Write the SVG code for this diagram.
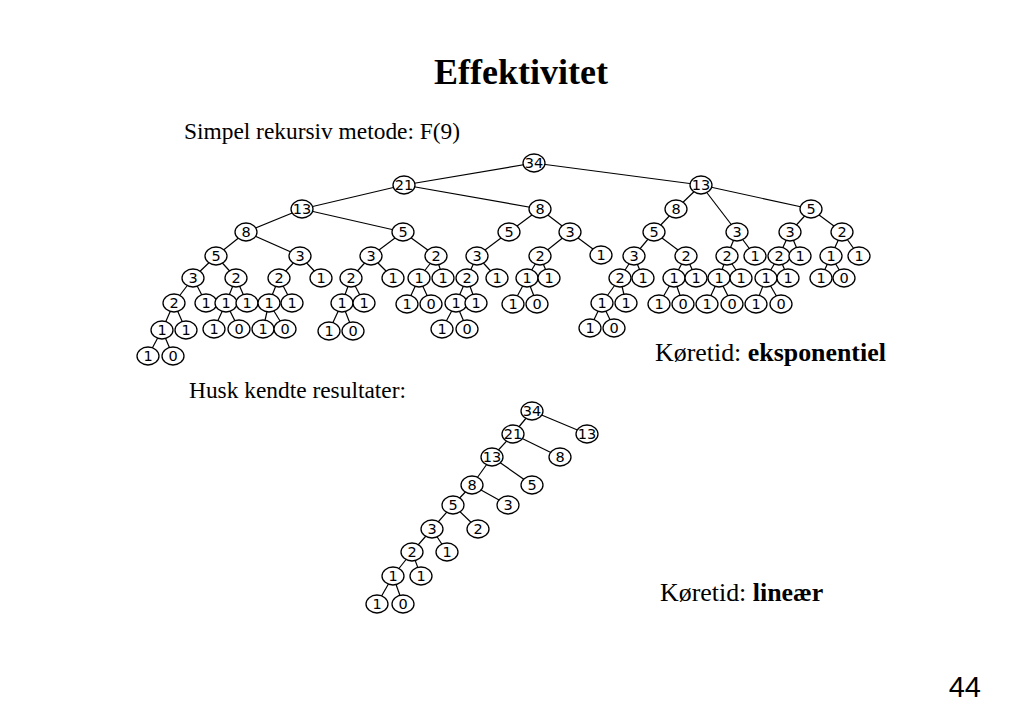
<svg xmlns="http://www.w3.org/2000/svg" width="1024" height="709" viewBox="0 0 1024 709">
<style>
.bg{fill:#fff}
.t{font-family:"Liberation Serif","Times New Roman",serif;fill:#000}
.n ellipse{fill:#fff;stroke:#000;stroke-width:1.3}
.n text{font-family:"DejaVu Sans",Verdana,sans-serif;font-size:14.5px;text-anchor:middle;fill:#000}
#edges line{stroke:#000;stroke-width:1.2}
</style>
<rect class="bg" x="0" y="0" width="1024" height="709"/>
<text class="t" x="521" y="84" font-size="36" font-weight="bold" text-anchor="middle">Effektivitet</text>
<text class="t" x="184" y="139" font-size="23.4">Simpel rekursiv metode: F(9)</text>
<text class="t" x="655" y="361" font-size="25.9">Køretid: <tspan font-weight="bold">eksponentiel</tspan></text>
<text class="t" x="189" y="398" font-size="23.4">Husk kendte resultater:</text>
<text class="t" x="660" y="601" font-size="25.9">Køretid: <tspan font-weight="bold">lineær</tspan></text>
<text x="981" y="697" font-size="29" text-anchor="end" font-family="Liberation Sans, Arial, sans-serif">44</text>
<g id="edges">
<line x1="534" y1="163" x2="404" y2="185"/>
<line x1="534" y1="163" x2="701" y2="185"/>
<line x1="404" y1="185" x2="302" y2="209"/>
<line x1="404" y1="185" x2="540" y2="209"/>
<line x1="701" y1="185" x2="676" y2="209"/>
<line x1="701" y1="185" x2="811" y2="209"/>
<line x1="302" y1="209" x2="246" y2="232"/>
<line x1="302" y1="209" x2="403" y2="232"/>
<line x1="246" y1="232" x2="216" y2="256"/>
<line x1="246" y1="232" x2="300" y2="256"/>
<line x1="216" y1="256" x2="193" y2="278"/>
<line x1="216" y1="256" x2="236" y2="278"/>
<line x1="193" y1="278" x2="174" y2="303"/>
<line x1="193" y1="278" x2="206" y2="303"/>
<line x1="174" y1="303" x2="162" y2="330"/>
<line x1="174" y1="303" x2="186" y2="330"/>
<line x1="162" y1="330" x2="148" y2="356"/>
<line x1="162" y1="330" x2="173" y2="356"/>
<line x1="236" y1="278" x2="226" y2="303"/>
<line x1="236" y1="278" x2="247" y2="303"/>
<line x1="226" y1="303" x2="214" y2="329"/>
<line x1="226" y1="303" x2="239" y2="329"/>
<line x1="300" y1="256" x2="279" y2="278"/>
<line x1="300" y1="256" x2="321" y2="278"/>
<line x1="279" y1="278" x2="269" y2="303"/>
<line x1="279" y1="278" x2="292" y2="303"/>
<line x1="269" y1="303" x2="263" y2="329"/>
<line x1="269" y1="303" x2="285" y2="329"/>
<line x1="403" y1="232" x2="371" y2="256"/>
<line x1="403" y1="232" x2="436" y2="256"/>
<line x1="371" y1="256" x2="351" y2="278"/>
<line x1="371" y1="256" x2="393" y2="278"/>
<line x1="351" y1="278" x2="342" y2="303"/>
<line x1="351" y1="278" x2="364" y2="303"/>
<line x1="342" y1="303" x2="329" y2="331"/>
<line x1="342" y1="303" x2="353" y2="331"/>
<line x1="436" y1="256" x2="419" y2="278"/>
<line x1="436" y1="256" x2="443" y2="278"/>
<line x1="419" y1="278" x2="407" y2="304"/>
<line x1="419" y1="278" x2="431" y2="304"/>
<line x1="540" y1="209" x2="509" y2="232"/>
<line x1="540" y1="209" x2="570" y2="232"/>
<line x1="509" y1="232" x2="477" y2="256"/>
<line x1="477" y1="256" x2="467" y2="278"/>
<line x1="477" y1="256" x2="497" y2="278"/>
<line x1="467" y1="278" x2="456" y2="303"/>
<line x1="467" y1="278" x2="476" y2="303"/>
<line x1="456" y1="303" x2="442" y2="329"/>
<line x1="456" y1="303" x2="467" y2="329"/>
<line x1="570" y1="232" x2="540" y2="256"/>
<line x1="570" y1="232" x2="601" y2="255"/>
<line x1="540" y1="256" x2="527" y2="278"/>
<line x1="540" y1="256" x2="549" y2="278"/>
<line x1="527" y1="278" x2="513" y2="304"/>
<line x1="527" y1="278" x2="537" y2="304"/>
<line x1="676" y1="209" x2="654" y2="232"/>
<line x1="701" y1="185" x2="737" y2="232"/>
<line x1="654" y1="232" x2="634" y2="256"/>
<line x1="654" y1="232" x2="686" y2="256"/>
<line x1="634" y1="256" x2="620" y2="278"/>
<line x1="634" y1="256" x2="643" y2="278"/>
<line x1="620" y1="278" x2="602" y2="303"/>
<line x1="620" y1="278" x2="626" y2="303"/>
<line x1="602" y1="303" x2="590" y2="328"/>
<line x1="602" y1="303" x2="614" y2="328"/>
<line x1="686" y1="256" x2="674" y2="278"/>
<line x1="686" y1="256" x2="696" y2="278"/>
<line x1="674" y1="278" x2="659" y2="304"/>
<line x1="674" y1="278" x2="683" y2="304"/>
<line x1="737" y1="232" x2="727" y2="256"/>
<line x1="737" y1="232" x2="755" y2="256"/>
<line x1="727" y1="256" x2="719" y2="278"/>
<line x1="727" y1="256" x2="741" y2="278"/>
<line x1="719" y1="278" x2="707" y2="304"/>
<line x1="719" y1="278" x2="732" y2="304"/>
<line x1="811" y1="209" x2="790" y2="232"/>
<line x1="811" y1="209" x2="842" y2="232"/>
<line x1="790" y1="232" x2="779" y2="256"/>
<line x1="790" y1="232" x2="800" y2="256"/>
<line x1="779" y1="256" x2="766" y2="278"/>
<line x1="779" y1="256" x2="788" y2="278"/>
<line x1="766" y1="278" x2="756" y2="304"/>
<line x1="766" y1="278" x2="781" y2="304"/>
<line x1="842" y1="232" x2="831" y2="256"/>
<line x1="842" y1="232" x2="859" y2="256"/>
<line x1="831" y1="256" x2="821" y2="278"/>
<line x1="831" y1="256" x2="844" y2="278"/>
<line x1="532" y1="411" x2="513" y2="434"/>
<line x1="532" y1="411" x2="587" y2="434"/>
<line x1="513" y1="434" x2="492" y2="457"/>
<line x1="513" y1="434" x2="560" y2="457"/>
<line x1="492" y1="457" x2="472" y2="485"/>
<line x1="492" y1="457" x2="532" y2="485"/>
<line x1="472" y1="485" x2="453" y2="505"/>
<line x1="472" y1="485" x2="508" y2="505"/>
<line x1="453" y1="505" x2="432" y2="529"/>
<line x1="453" y1="505" x2="478" y2="529"/>
<line x1="432" y1="529" x2="412" y2="552"/>
<line x1="432" y1="529" x2="447" y2="552"/>
<line x1="412" y1="552" x2="393" y2="576"/>
<line x1="412" y1="552" x2="421" y2="576"/>
<line x1="393" y1="576" x2="377" y2="604"/>
<line x1="393" y1="576" x2="403" y2="604"/>
</g>
<g id="a1" class="n"><ellipse cx="534" cy="163" rx="11" ry="9"/><text x="534" y="168">34</text></g>
<g id="a2" class="n"><ellipse cx="404" cy="185" rx="11" ry="9"/><text x="404" y="190">21</text></g>
<g id="a3" class="n"><ellipse cx="701" cy="185" rx="11" ry="9"/><text x="701" y="190">13</text></g>
<g id="a4" class="n"><ellipse cx="302" cy="209" rx="11" ry="9"/><text x="302" y="214">13</text></g>
<g id="a5" class="n"><ellipse cx="540" cy="209" rx="11" ry="9"/><text x="540" y="214">8</text></g>
<g id="a6" class="n"><ellipse cx="676" cy="209" rx="11" ry="9"/><text x="676" y="214">8</text></g>
<g id="a7" class="n"><ellipse cx="811" cy="209" rx="11" ry="9"/><text x="811" y="214">5</text></g>
<g id="a8" class="n"><ellipse cx="246" cy="232" rx="11" ry="9"/><text x="246" y="237">8</text></g>
<g id="a9" class="n"><ellipse cx="403" cy="232" rx="11" ry="9"/><text x="403" y="237">5</text></g>
<g id="a10" class="n"><ellipse cx="216" cy="256" rx="11" ry="9"/><text x="216" y="261">5</text></g>
<g id="a11" class="n"><ellipse cx="300" cy="256" rx="11" ry="9"/><text x="300" y="261">3</text></g>
<g id="a12" class="n"><ellipse cx="193" cy="278" rx="11" ry="9"/><text x="193" y="283">3</text></g>
<g id="a13" class="n"><ellipse cx="236" cy="278" rx="11" ry="9"/><text x="236" y="283">2</text></g>
<g id="a14" class="n"><ellipse cx="174" cy="303" rx="11" ry="9"/><text x="174" y="308">2</text></g>
<g id="a15" class="n"><ellipse cx="206" cy="303" rx="11" ry="9"/><text x="206" y="308">1</text></g>
<g id="a16" class="n"><ellipse cx="162" cy="330" rx="11" ry="9"/><text x="162" y="335">1</text></g>
<g id="a17" class="n"><ellipse cx="186" cy="330" rx="11" ry="9"/><text x="186" y="335">1</text></g>
<g id="a18" class="n"><ellipse cx="148" cy="356" rx="11" ry="9"/><text x="148" y="361">1</text></g>
<g id="a19" class="n"><ellipse cx="173" cy="356" rx="11" ry="9"/><text x="173" y="361">0</text></g>
<g id="a20" class="n"><ellipse cx="226" cy="303" rx="11" ry="9"/><text x="226" y="308">1</text></g>
<g id="a21" class="n"><ellipse cx="247" cy="303" rx="11" ry="9"/><text x="247" y="308">1</text></g>
<g id="a22" class="n"><ellipse cx="214" cy="329" rx="11" ry="9"/><text x="214" y="334">1</text></g>
<g id="a23" class="n"><ellipse cx="239" cy="329" rx="11" ry="9"/><text x="239" y="334">0</text></g>
<g id="a24" class="n"><ellipse cx="279" cy="278" rx="11" ry="9"/><text x="279" y="283">2</text></g>
<g id="a25" class="n"><ellipse cx="321" cy="278" rx="11" ry="9"/><text x="321" y="283">1</text></g>
<g id="a26" class="n"><ellipse cx="269" cy="303" rx="11" ry="9"/><text x="269" y="308">1</text></g>
<g id="a27" class="n"><ellipse cx="292" cy="303" rx="11" ry="9"/><text x="292" y="308">1</text></g>
<g id="a28" class="n"><ellipse cx="263" cy="329" rx="11" ry="9"/><text x="263" y="334">1</text></g>
<g id="a29" class="n"><ellipse cx="285" cy="329" rx="11" ry="9"/><text x="285" y="334">0</text></g>
<g id="a30" class="n"><ellipse cx="371" cy="256" rx="11" ry="9"/><text x="371" y="261">3</text></g>
<g id="a31" class="n"><ellipse cx="436" cy="256" rx="11" ry="9"/><text x="436" y="261">2</text></g>
<g id="a32" class="n"><ellipse cx="351" cy="278" rx="11" ry="9"/><text x="351" y="283">2</text></g>
<g id="a33" class="n"><ellipse cx="393" cy="278" rx="11" ry="9"/><text x="393" y="283">1</text></g>
<g id="a34" class="n"><ellipse cx="342" cy="303" rx="11" ry="9"/><text x="342" y="308">1</text></g>
<g id="a35" class="n"><ellipse cx="364" cy="303" rx="11" ry="9"/><text x="364" y="308">1</text></g>
<g id="a36" class="n"><ellipse cx="329" cy="331" rx="11" ry="9"/><text x="329" y="336">1</text></g>
<g id="a37" class="n"><ellipse cx="353" cy="331" rx="11" ry="9"/><text x="353" y="336">0</text></g>
<g id="a38" class="n"><ellipse cx="419" cy="278" rx="11" ry="9"/><text x="419" y="283">1</text></g>
<g id="a39" class="n"><ellipse cx="443" cy="278" rx="11" ry="9"/><text x="443" y="283">1</text></g>
<g id="a40" class="n"><ellipse cx="407" cy="304" rx="11" ry="9"/><text x="407" y="309">1</text></g>
<g id="a41" class="n"><ellipse cx="431" cy="304" rx="11" ry="9"/><text x="431" y="309">0</text></g>
<g id="a42" class="n"><ellipse cx="509" cy="232" rx="11" ry="9"/><text x="509" y="237">5</text></g>
<g id="a43" class="n"><ellipse cx="570" cy="232" rx="11" ry="9"/><text x="570" y="237">3</text></g>
<g id="a44" class="n"><ellipse cx="477" cy="256" rx="11" ry="9"/><text x="477" y="261">3</text></g>
<g id="a45" class="n"><ellipse cx="467" cy="278" rx="11" ry="9"/><text x="467" y="283">2</text></g>
<g id="a46" class="n"><ellipse cx="497" cy="278" rx="11" ry="9"/><text x="497" y="283">1</text></g>
<g id="a47" class="n"><ellipse cx="456" cy="303" rx="11" ry="9"/><text x="456" y="308">1</text></g>
<g id="a48" class="n"><ellipse cx="476" cy="303" rx="11" ry="9"/><text x="476" y="308">1</text></g>
<g id="a49" class="n"><ellipse cx="442" cy="329" rx="11" ry="9"/><text x="442" y="334">1</text></g>
<g id="a50" class="n"><ellipse cx="467" cy="329" rx="11" ry="9"/><text x="467" y="334">0</text></g>
<g id="a51" class="n"><ellipse cx="540" cy="256" rx="11" ry="9"/><text x="540" y="261">2</text></g>
<g id="a52" class="n"><ellipse cx="601" cy="255" rx="11" ry="9"/><text x="601" y="260">1</text></g>
<g id="a53" class="n"><ellipse cx="527" cy="278" rx="11" ry="9"/><text x="527" y="283">1</text></g>
<g id="a54" class="n"><ellipse cx="549" cy="278" rx="11" ry="9"/><text x="549" y="283">1</text></g>
<g id="a55" class="n"><ellipse cx="513" cy="304" rx="11" ry="9"/><text x="513" y="309">1</text></g>
<g id="a56" class="n"><ellipse cx="537" cy="304" rx="11" ry="9"/><text x="537" y="309">0</text></g>
<g id="a57" class="n"><ellipse cx="654" cy="232" rx="11" ry="9"/><text x="654" y="237">5</text></g>
<g id="a58" class="n"><ellipse cx="737" cy="232" rx="11" ry="9"/><text x="737" y="237">3</text></g>
<g id="a59" class="n"><ellipse cx="634" cy="256" rx="11" ry="9"/><text x="634" y="261">3</text></g>
<g id="a60" class="n"><ellipse cx="686" cy="256" rx="11" ry="9"/><text x="686" y="261">2</text></g>
<g id="a61" class="n"><ellipse cx="620" cy="278" rx="11" ry="9"/><text x="620" y="283">2</text></g>
<g id="a62" class="n"><ellipse cx="643" cy="278" rx="11" ry="9"/><text x="643" y="283">1</text></g>
<g id="a63" class="n"><ellipse cx="602" cy="303" rx="11" ry="9"/><text x="602" y="308">1</text></g>
<g id="a64" class="n"><ellipse cx="626" cy="303" rx="11" ry="9"/><text x="626" y="308">1</text></g>
<g id="a65" class="n"><ellipse cx="590" cy="328" rx="11" ry="9"/><text x="590" y="333">1</text></g>
<g id="a66" class="n"><ellipse cx="614" cy="328" rx="11" ry="9"/><text x="614" y="333">0</text></g>
<g id="a67" class="n"><ellipse cx="674" cy="278" rx="11" ry="9"/><text x="674" y="283">1</text></g>
<g id="a68" class="n"><ellipse cx="696" cy="278" rx="11" ry="9"/><text x="696" y="283">1</text></g>
<g id="a69" class="n"><ellipse cx="659" cy="304" rx="11" ry="9"/><text x="659" y="309">1</text></g>
<g id="a70" class="n"><ellipse cx="683" cy="304" rx="11" ry="9"/><text x="683" y="309">0</text></g>
<g id="a71" class="n"><ellipse cx="727" cy="256" rx="11" ry="9"/><text x="727" y="261">2</text></g>
<g id="a72" class="n"><ellipse cx="755" cy="256" rx="11" ry="9"/><text x="755" y="261">1</text></g>
<g id="a73" class="n"><ellipse cx="719" cy="278" rx="11" ry="9"/><text x="719" y="283">1</text></g>
<g id="a74" class="n"><ellipse cx="741" cy="278" rx="11" ry="9"/><text x="741" y="283">1</text></g>
<g id="a75" class="n"><ellipse cx="707" cy="304" rx="11" ry="9"/><text x="707" y="309">1</text></g>
<g id="a76" class="n"><ellipse cx="732" cy="304" rx="11" ry="9"/><text x="732" y="309">0</text></g>
<g id="a77" class="n"><ellipse cx="790" cy="232" rx="11" ry="9"/><text x="790" y="237">3</text></g>
<g id="a78" class="n"><ellipse cx="842" cy="232" rx="11" ry="9"/><text x="842" y="237">2</text></g>
<g id="a79" class="n"><ellipse cx="779" cy="256" rx="11" ry="9"/><text x="779" y="261">2</text></g>
<g id="a80" class="n"><ellipse cx="800" cy="256" rx="11" ry="9"/><text x="800" y="261">1</text></g>
<g id="a81" class="n"><ellipse cx="766" cy="278" rx="11" ry="9"/><text x="766" y="283">1</text></g>
<g id="a82" class="n"><ellipse cx="788" cy="278" rx="11" ry="9"/><text x="788" y="283">1</text></g>
<g id="a83" class="n"><ellipse cx="756" cy="304" rx="11" ry="9"/><text x="756" y="309">1</text></g>
<g id="a84" class="n"><ellipse cx="781" cy="304" rx="11" ry="9"/><text x="781" y="309">0</text></g>
<g id="a85" class="n"><ellipse cx="831" cy="256" rx="11" ry="9"/><text x="831" y="261">1</text></g>
<g id="a86" class="n"><ellipse cx="859" cy="256" rx="11" ry="9"/><text x="859" y="261">1</text></g>
<g id="a87" class="n"><ellipse cx="821" cy="278" rx="11" ry="9"/><text x="821" y="283">1</text></g>
<g id="a88" class="n"><ellipse cx="844" cy="278" rx="11" ry="9"/><text x="844" y="283">0</text></g>
<g id="b1" class="n"><ellipse cx="532" cy="411" rx="11" ry="9"/><text x="532" y="416">34</text></g>
<g id="b2" class="n"><ellipse cx="513" cy="434" rx="11" ry="9"/><text x="513" y="439">21</text></g>
<g id="b3" class="n"><ellipse cx="587" cy="434" rx="11" ry="9"/><text x="587" y="439">13</text></g>
<g id="b4" class="n"><ellipse cx="492" cy="457" rx="11" ry="9"/><text x="492" y="462">13</text></g>
<g id="b5" class="n"><ellipse cx="560" cy="457" rx="11" ry="9"/><text x="560" y="462">8</text></g>
<g id="b6" class="n"><ellipse cx="472" cy="485" rx="11" ry="9"/><text x="472" y="490">8</text></g>
<g id="b7" class="n"><ellipse cx="532" cy="485" rx="11" ry="9"/><text x="532" y="490">5</text></g>
<g id="b8" class="n"><ellipse cx="453" cy="505" rx="11" ry="9"/><text x="453" y="510">5</text></g>
<g id="b9" class="n"><ellipse cx="508" cy="505" rx="11" ry="9"/><text x="508" y="510">3</text></g>
<g id="b10" class="n"><ellipse cx="432" cy="529" rx="11" ry="9"/><text x="432" y="534">3</text></g>
<g id="b11" class="n"><ellipse cx="478" cy="529" rx="11" ry="9"/><text x="478" y="534">2</text></g>
<g id="b12" class="n"><ellipse cx="412" cy="552" rx="11" ry="9"/><text x="412" y="557">2</text></g>
<g id="b13" class="n"><ellipse cx="447" cy="552" rx="11" ry="9"/><text x="447" y="557">1</text></g>
<g id="b14" class="n"><ellipse cx="393" cy="576" rx="11" ry="9"/><text x="393" y="581">1</text></g>
<g id="b15" class="n"><ellipse cx="421" cy="576" rx="11" ry="9"/><text x="421" y="581">1</text></g>
<g id="b16" class="n"><ellipse cx="377" cy="604" rx="11" ry="9"/><text x="377" y="609">1</text></g>
<g id="b17" class="n"><ellipse cx="403" cy="604" rx="11" ry="9"/><text x="403" y="609">0</text></g>
</svg>
